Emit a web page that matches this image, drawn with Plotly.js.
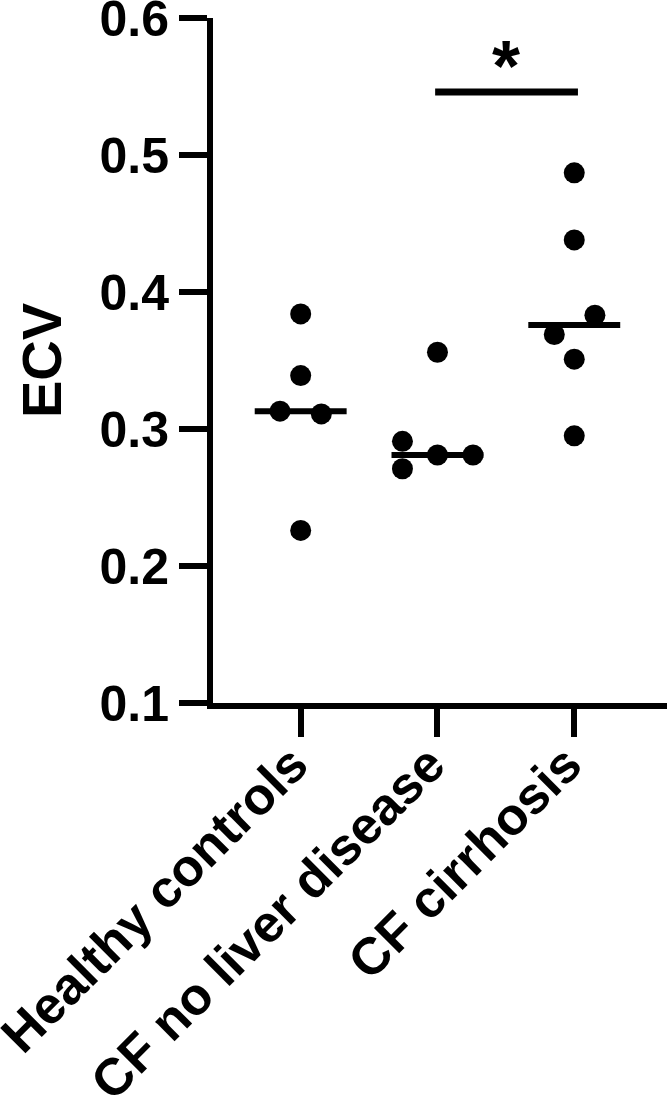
<!DOCTYPE html>
<html>
<head>
<meta charset="utf-8">
<script src="https://cdn.plot.ly/plotly-3.0.1.min.js"></script>
<style>
  html, body { margin: 0; padding: 0; background: #fff; }
  #chart { width: 667px; height: 1106px; }
</style>
</head>
<body>
<div id="chart"></div>
<script>
// ---- data ----
const categories = ["Healthy controls", "CF no liver disease", "CF cirrhosis"];
const healthyECV = [0.384, 0.339, 0.313, 0.311, 0.226];
const cfNoLiverECV = [0.356, 0.291, 0.271, 0.281, 0.281];
const cfCirrhosisECV = [0.487, 0.438, 0.383, 0.369, 0.351, 0.295];
const yTickVals = [0.1, 0.2, 0.3, 0.4, 0.5, 0.6];
const sigBarY = 0.546;
const sigLabel = "*";

// horizontal scatter offsets (layout only, in category units)
const healthyOffset = [0, 0, -0.151, 0.151, 0];
const cfNoLiverOffset = [0, -0.256, -0.256, 0, 0.26];
const cfCirrhosisOffset = [0, 0, 0.151, -0.146, 0, 0];

const groups = [healthyECV, cfNoLiverECV, cfCirrhosisECV];
const offsets = [healthyOffset, cfNoLiverOffset, cfCirrhosisOffset];

function median(arr) {
  const s = arr.slice().sort((a, b) => a - b);
  const m = Math.floor(s.length / 2);
  return s.length % 2 ? s[m] : (s[m - 1] + s[m]) / 2;
}

const FONT = "Liberation Sans, Arial, Helvetica, sans-serif";
const traces = [];
const halfW = 0.336;

groups.forEach((vals, i) => {
  traces.push({
    type: "scatter", mode: "markers",
    x: vals.map((v, k) => i + offsets[i][k]),
    y: vals,
    marker: { color: "#000", size: 21, line: { width: 0 } },
    hoverinfo: "y", showlegend: false, cliponaxis: false
  });
  const med = median(vals);
  traces.push({
    type: "scatter", mode: "lines",
    x: [i - halfW, i + halfW], y: [med, med],
    line: { color: "#000", width: 6 },
    hoverinfo: "skip", showlegend: false, cliponaxis: false
  });
});

// significance bar between group 2 and 3
traces.push({
  type: "scatter", mode: "lines",
  x: [1 - 0.017, 2 + 0.027], y: [sigBarY, sigBarY],
  line: { color: "#000", width: 7 },
  hoverinfo: "skip", showlegend: false, cliponaxis: false
});

const layout = {
  width: 667, height: 1106,
  margin: { l: 213, r: 0, t: 18, b: 403 },
  paper_bgcolor: "#fff", plot_bgcolor: "#fff",
  font: { family: FONT, color: "#000" },
  xaxis: {
    range: [-0.641, 2.678],
    tickmode: "array", tickvals: [0, 1, 2], ticktext: categories,
    tickangle: -45,
    ticks: "outside", ticklen: 28, tickwidth: 6, tickcolor: "#000",
    showline: true, linewidth: 6, linecolor: "#000",
    showgrid: false, zeroline: false,
    tickfont: { family: FONT, size: 52, color: "#000", weight: "bold" },
    ticklabelstandoff: -24, ticklabelshift: -8,
    ticklabeloverflow: "allow",
    automargin: false, fixedrange: true
  },
  yaxis: {
    range: [0.1, 0.6],
    tickmode: "array", tickvals: yTickVals,
    ticktext: yTickVals.map(v => v.toFixed(1)),
    ticks: "outside", ticklen: 28, tickwidth: 6, tickcolor: "#000",
    showline: true, linewidth: 6, linecolor: "#000",
    showgrid: false, zeroline: false,
    tickfont: { family: FONT, size: 50, color: "#000", weight: "bold" },
    ticklabeloverflow: "allow",
    title: { text: "ECV", font: { family: FONT, size: 56, color: "#000", weight: "bold" }, standoff: 22 },
    automargin: false, fixedrange: true
  },
  annotations: [{
    x: 1.5, y: sigBarY, xref: "x", yref: "y",
    text: sigLabel, showarrow: false,
    xanchor: "center", yanchor: "bottom", yshift: -16,
    font: { family: FONT, size: 72, color: "#000", weight: "bold" }
  }]
};

Plotly.newPlot("chart", traces, layout, { displayModeBar: false, staticPlot: true });
</script>
</body>
</html>
